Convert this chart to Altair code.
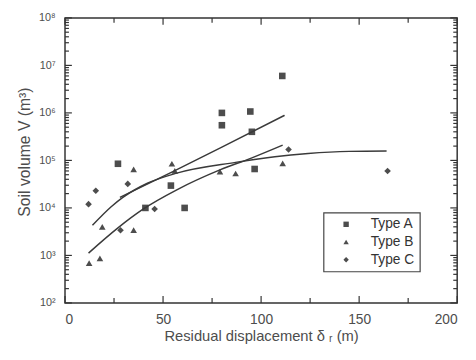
import altair as alt
import pandas as pd

a_x = [27, 41, 54, 61, 80, 80, 94.5, 95.3, 96.7, 110.8]
a_v = [8.5e4, 1.0e4, 2.95e4, 1.0e4, 1.0e6, 5.5e5, 1.07e6, 4.0e5, 6.6e4, 6.0e6]
b_x = [12.3, 17.8, 19, 35, 35, 54.5, 56, 79, 87, 111]
b_v = [6.9e2, 8.7e2, 4.0e3, 3.4e3, 6.5e4, 8.5e4, 6.0e4, 5.8e4, 5.3e4, 8.7e4]
c_x = [12, 15.7, 28.3, 32, 45.7, 114, 164.5]
c_v = [1.2e4, 2.3e4, 3.4e3, 3.2e4, 9.5e3, 1.7e5, 6.0e4]

# ---- fitted curves ----
fa_x = [28, 55, 80, 112]
fa_v = [1.66e4, 5.8e4, 1.9e5, 8.9e5]
fb_x = [12, 27, 40, 57, 79, 95, 111]
fb_v = [1.12e3, 3.8e3, 9.5e3, 2.4e4, 6.3e4, 1.12e5, 2.1e5]
fc_x = [14, 23.7, 29.5, 42, 57, 87, 107, 124, 145, 164]
fc_v = [4.3e3, 1.07e4, 1.66e4, 3.3e4, 5.4e4, 9.1e4, 1.2e5, 1.4e5, 1.55e5, 1.58e5]

types = ["Type A", "Type B", "Type C"]
shapes = ["square", "triangle-up", "diamond"]

y_major = [1e2, 1e3, 1e4, 1e5, 1e6, 1e7, 1e8]
y_labels = ["10²", "10³", "10⁴", "10⁵", "10⁶", "10⁷", "10⁸"]
y_minor = [k * 10 ** n for n in range(2, 8) for k in range(2, 10)]
x_major = [0, 50, 100, 150, 200]
x_minor = [25, 75, 125, 175]

pts = pd.DataFrame(
    {"x": a_x + b_x + c_x, "v": a_v + b_v + c_v,
     "type": [types[0]] * len(a_x) + [types[1]] * len(b_x) + [types[2]] * len(c_x)}
)
fits = pd.DataFrame(
    {"x": fa_x + fb_x + fc_x, "v": fa_v + fb_v + fc_v,
     "type": [types[0]] * len(fa_x) + [types[1]] * len(fb_x) + [types[2]] * len(fc_x)}
)
ymaj_df = pd.DataFrame({"v": y_major})
ymin_df = pd.DataFrame({"v": y_minor})
xmaj_df = pd.DataFrame({"x": x_major})
xmin_df = pd.DataFrame({"x": x_minor})

FONT = "Liberation Sans"
GRAY = "#4d4d4d"
TICK = "#333333"
W, H = 399, 290

xs = alt.Scale(domain=[0, 200], nice=False, zero=False)
ys = alt.Scale(type="log", domain=[100, 1e8], nice=False)

label_expr = "[" + ",".join("'%s'" % s for s in y_labels) + "][indexof([" + \
    ",".join(str(int(v)) for v in y_major) + "], datum.value)]"

x_axis = alt.Axis(values=x_major, ticks=False, domain=False, grid=False,
                  labelPadding=10, labelFontSize=14, labelColor=GRAY,
                  labelFont=FONT, title="Residual displacement δ ᵣ (m)",
                  titleFont=FONT, titleFontSize=15, titleColor=GRAY,
                  titleFontWeight="normal", titlePadding=2)
y_axis = alt.Axis(values=y_major, ticks=False, domain=False, grid=False,
                  labelPadding=10, labelFontSize=11, labelColor=GRAY,
                  labelFont=FONT, labelExpr=label_expr,
                  title="Soil volume V (m³)", titleFont=FONT, titleFontSize=16,
                  titleColor=GRAY, titleFontWeight="normal", titlePadding=6,
                  titleY=136)

points = alt.Chart(pts).mark_point(filled=True, color=GRAY, opacity=1,
                                   size=45).encode(
    x=alt.X("x:Q", scale=xs, axis=x_axis),
    y=alt.Y("v:Q", scale=ys, axis=y_axis),
    shape=alt.Shape("type:N", scale=alt.Scale(domain=types, range=shapes),
                    legend=alt.Legend(title=None, orient="none", legendX=263,
                                      legendY=198)),
)

lines = alt.Chart(fits).mark_line(color="#3a3a3a", strokeWidth=1.5,
                                  interpolate="monotone").encode(
    x=alt.X("x:Q", scale=xs),
    y=alt.Y("v:Q", scale=ys),
    detail="type:N",
)


def ytick(df, xc, size):
    return alt.Chart(df).mark_tick(color=TICK, thickness=1.2, size=size,
                                   orient="horizontal", opacity=1).encode(
        y=alt.Y("v:Q", scale=ys), x=alt.value(xc))


def xtick(df, yc, size):
    return alt.Chart(df).mark_tick(color=TICK, thickness=1.2, size=size,
                                   orient="vertical", opacity=1).encode(
        x=alt.X("x:Q", scale=xs), y=alt.value(yc))


ticks = [
    ytick(ymaj_df, 3.5, 7), ytick(ymin_df, 2, 4),
    ytick(ymaj_df, W - 3.5, 7), ytick(ymin_df, W - 2, 4),
    xtick(xmaj_df, H - 3.5, 7), xtick(xmin_df, H - 2.5, 5),
    xtick(xmaj_df, 3.5, 7), xtick(xmin_df, 2.5, 5),
]

chart = alt.layer(points, lines, *ticks).properties(
    width=W, height=H,
    autosize=alt.AutoSizeParams(type="none"),
    padding={"left": 58, "top": 7, "right": 11, "bottom": 55},
).configure_view(
    stroke="#333333", strokeWidth=1.5
).configure_legend(
    strokeColor="#444444", strokeWidth=1.2, fillColor="white", padding=5,
    labelFont=FONT, labelFontSize=14, labelColor="#333333", symbolSize=30,
    rowPadding=4, labelOffset=18, symbolOffset=11, symbolFillColor=GRAY,
    symbolStrokeColor=GRAY, symbolType="circle"
)

chart.save("out.html", embed_options={"renderer": "svg", "actions": False})
